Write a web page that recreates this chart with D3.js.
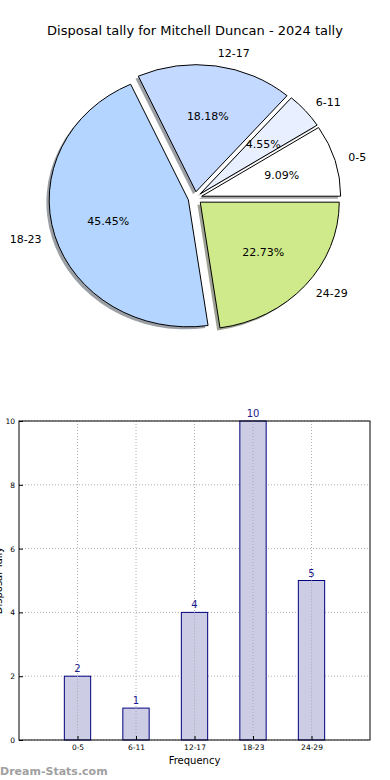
<!DOCTYPE html>
<html><head><meta charset="utf-8">
<script src="https://cdn.jsdelivr.net/npm/d3@7"></script>
<style>body{margin:0;background:#fff}svg{display:block}text{font-family:"DejaVu Sans",sans-serif}</style>
</head><body>
<svg id="c" width="390" height="780"></svg>
<script>
const categories = ["0-5","6-11","12-17","18-23","24-29"];
const values = [2,1,4,10,5];
const pieColors = ["#ffffff","#e8f0ff","#c4d9ff","#b3d5ff","#cfea8a"];
const yTicks = [0,2,4,6,8,10];
const title = "Disposal tally for Mitchell Duncan - 2024 tally";

const svg = d3.select("#c");
svg.append("text").attr("x",195).attr("y",35).attr("text-anchor","middle").attr("font-size",13).text(title);

// Pie (elliptical like matplotlib without equal aspect)
const cx=195, cy=198, rx=139, ry=127, ex=0.05;
const total = d3.sum(values);
const pie = d3.pie().sort(null).startAngle(Math.PI/2).endAngle(Math.PI/2-2*Math.PI);
const arcs = pie(values);
const arc = d3.arc().innerRadius(0).outerRadius(1);
const gp = svg.append("g");
function darken(c){const r=d3.rgb(c);return d3.rgb(r.r*0.3,r.g*0.3,r.b*0.3).toString();}
arcs.forEach((a,i)=>{
  const am=(a.startAngle+a.endAngle)/2;
  const ox=cx+ex*rx*Math.sin(am), oy=cy-ex*ry*Math.cos(am);
  gp.append("path").attr("d",arc(a))
    .attr("transform",`translate(${ox-2.8},${oy+2.5}) scale(${rx},${ry})`)
    .attr("fill",darken(pieColors[i])).attr("fill-opacity",0.5).attr("stroke","none");
});
arcs.forEach((a,i)=>{
  const am=(a.startAngle+a.endAngle)/2;
  const ox=cx+ex*rx*Math.sin(am), oy=cy-ex*ry*Math.cos(am);
  gp.append("path").attr("d",arc(a))
    .attr("transform",`translate(${ox},${oy}) scale(${rx},${ry})`)
    .attr("fill",pieColors[i]).attr("stroke","#000").attr("stroke-width",1)
    .attr("vector-effect","non-scaling-stroke").attr("stroke-linejoin","round");
  const s=Math.sin(am), c=Math.cos(am);
  const lx=ox+1.1*rx*s, ly=oy-1.1*ry*c;
  gp.append("text").attr("x",lx).attr("y",ly).attr("dy","0.35em")
    .attr("text-anchor", s>0?"start":"end").attr("font-size",11).text(categories[i]);
  const px=ox+0.6*rx*s, py=oy-0.6*ry*c;
  gp.append("text").attr("x",px).attr("y",py).attr("dy","0.35em")
    .attr("text-anchor","middle").attr("font-size",11)
    .text((values[i]/total*100).toFixed(2)+"%");
});

// Bar chart
const L=19,R=370,T=421,B=740;
const x=d3.scaleLinear().domain([-1,5]).range([L,R]);
const y=d3.scaleLinear().domain([0,10]).range([B,T]);
const gb=svg.append("g");
yTicks.forEach(t=>{
  gb.append("line").attr("x1",L).attr("x2",R).attr("y1",y(t)).attr("y2",y(t))
    .attr("stroke","#b0b0b0").attr("stroke-dasharray","1,2");
});
categories.forEach((c,i)=>{
  gb.append("line").attr("x1",x(i)).attr("x2",x(i)).attr("y1",T).attr("y2",B)
    .attr("stroke","#b0b0b0").attr("stroke-dasharray","1,2");
});
const bw=0.45;
gb.selectAll("rect.bar").data(values).join("rect").attr("class","bar")
  .attr("x",(d,i)=>x(i-bw/2)).attr("width",x(bw)-x(0))
  .attr("y",d=>y(d)).attr("height",d=>y(0)-y(d))
  .attr("fill","#ccccE4").attr("stroke","#000080").attr("stroke-width",1);
categories.forEach((c,i)=>{
  gb.append("line").attr("x1",x(i)).attr("x2",x(i)).attr("y1",y(values[i])).attr("y2",B)
    .attr("stroke","#a8a8b8").attr("stroke-dasharray","1,2");
});
gb.selectAll("text.val").data(values).join("text").attr("class","val")
  .attr("x",(d,i)=>x(i)).attr("y",d=>y(d)-4).attr("text-anchor","middle")
  .attr("font-size",10).attr("fill","#1a1a8c").text(d=>d);
gb.append("rect").attr("x",L).attr("y",T).attr("width",R-L).attr("height",B-T)
  .attr("fill","none").attr("stroke","#000").attr("stroke-width",1);
const yAxis=d3.axisLeft(y).tickValues(yTicks).tickSize(-4).tickPadding(4);
const ya=gb.append("g").attr("transform",`translate(${L},0)`).call(yAxis);
ya.select(".domain").remove();
ya.selectAll("text").attr("font-size",7.5).attr("font-family","DejaVu Sans");
const xAxis=d3.axisBottom(x).tickValues(d3.range(categories.length)).tickFormat(i=>categories[i]).tickSize(-4).tickPadding(5);
const xa=gb.append("g").attr("transform",`translate(0,${B})`).call(xAxis);
xa.select(".domain").remove();
xa.selectAll("text").attr("font-size",7.5).attr("font-family","DejaVu Sans");
gb.append("text").attr("x",(L+R)/2).attr("y",764).attr("text-anchor","middle").attr("font-size",10).text("Frequency");
gb.append("text").attr("transform",`translate(2,${(T+B)/2}) rotate(-90)`).attr("text-anchor","middle")
  .attr("font-size",10).text("Disposal Tally");
svg.append("text").attr("x",0).attr("y",775).attr("font-family","'Open Sans',sans-serif")
  .attr("font-weight",600).attr("font-size",11).attr("fill","#a0a0a0").text("Dream-Stats.com");
</script>
</body></html>
